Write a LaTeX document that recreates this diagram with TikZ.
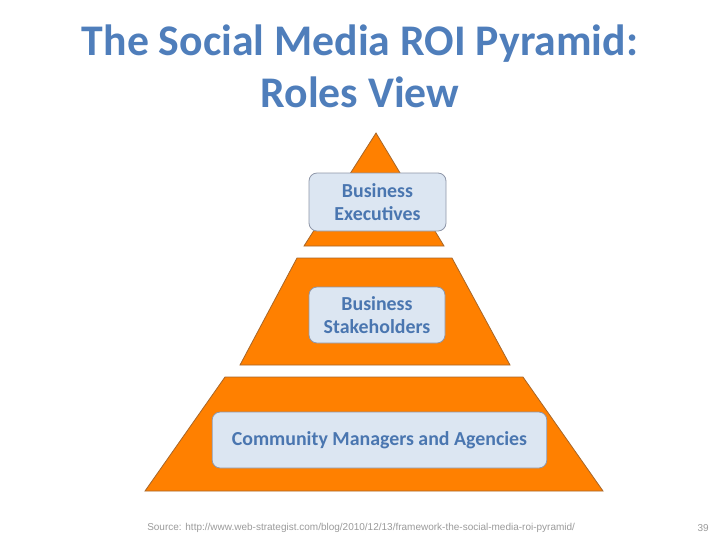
\documentclass[tikz,border=0pt]{standalone}
\usepackage{fontspec}
\setmainfont{Carlito}
\newfontfamily\srcfont{Liberation Sans}
\usetikzlibrary{positioning}
\definecolor{titleblue}{HTML}{4F7EBB}
\definecolor{rolleblue}{HTML}{4A76B0}
\definecolor{pyrorange}{HTML}{FF8000}
\definecolor{pyredge}{HTML}{A6662A}
\definecolor{boxfill}{HTML}{DCE6F2}
\definecolor{boxedge}{HTML}{8E96A8}
\definecolor{srcgrey}{HTML}{9A9A9A}
\tikzset{
%Define style for pyramid layers
layer/.style={
	fill=pyrorange,
	draw=pyredge,
	line width=0.6pt},
%Define style for role boxes
rolle/.style={
	rectangle,
	rounded corners=6pt,
	draw=boxedge, fill=boxfill,
	line width=0.6pt,
	inner sep=0pt,
	text=rolleblue,
	font=\bfseries\fontsize{14.9}{17.8}\selectfont,
	align=center},
%Define style for the title
titel/.style={
	text=titleblue,
	font=\bfseries\fontsize{32.8}{39}\selectfont,
	align=center},
%Define style for small print
fuss/.style={
	text=srcgrey,
	font=\srcfont\fontsize{7.5}{9}\selectfont,
	inner sep=0pt}
}
\begin{document}
\begin{tikzpicture}[x=0.75pt,y=-0.75pt]
	\useasboundingbox (0,0) rectangle (720,540);
	\node[titel] (title) at (360,66) {The Social Media ROI Pyramid:\\Roles View};
	% pyramid layers
	\draw[layer] (376,133) -- (444,246) -- (304,246) -- cycle;
	\draw[layer] (297,258) -- (452,258) -- (510,365) -- (240,365) -- cycle;
	\draw[layer] (225,377) -- (523,377) -- (603,491) -- (145,491) -- cycle;
	% roles
	\node[rolle, minimum width=102.75pt, minimum height=43.5pt] (exec) at (377.5,202) {Business\\Executives};
	\node[rolle, minimum width=102pt, minimum height=42pt] (stake) at (377,315) {Business\\Stakeholders};
	\node[rolle, minimum width=251pt, minimum height=42pt] (comm) at (379.5,440) {Community Managers and Agencies};
	% footer
	\node[fuss, anchor=west] (source) at (147,528) {Source: http://www.web-strategist.com/blog/2010/12/13/framework-the-social-media-roi-pyramid/};
	\node[fuss, anchor=east] (page) at (709,528) {39};
\end{tikzpicture}
\end{document}
